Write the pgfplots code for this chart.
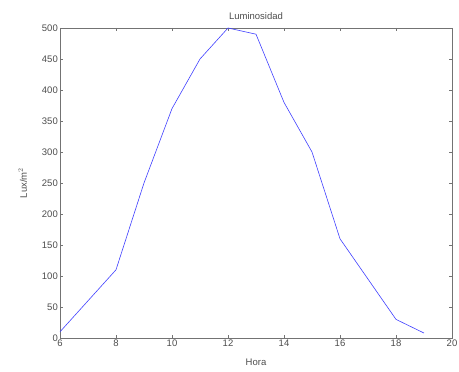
\documentclass[border=0pt]{standalone}
\usepackage{pgfplots}
\pgfplotsset{compat=1.18}
\usepackage{fontspec}
\setmainfont{Liberation Sans}
\begin{document}
\begin{tikzpicture}
\begin{axis}[
  scale only axis,
  width=392pt, height=310pt,
  xmin=6, xmax=20, ymin=0, ymax=500,
  xtick={6,8,...,20}, ytick={0,50,...,500},
  tick align=inside,
  major tick length=3pt,
  axis line style={black!55, line width=0.8pt},
  tick style={black!55, line width=0.6pt},
  every tick label/.append style={font=\fontsize{9.5}{10}\selectfont, text=black!70},
  xticklabel style={inner sep=2pt},
  yticklabel style={inner sep=2pt},
  /pgf/number format/assume math mode=true,
  every axis title shift=0pt,
  title={Luminosidad},
  title style={font=\fontsize{9.5}{10}\selectfont, text=black!70, at={(axis description cs:0.5,1.026)}, anchor=base, inner sep=0pt},
  xlabel={Hora},
  ylabel={Lux/m$^2$},
  label style={font=\fontsize{9.5}{10}\selectfont, text=black!70},
  xlabel style={at={(axis description cs:0.5,-0.066)}, anchor=north, inner sep=0pt},
  ylabel style={at={(axis description cs:-0.084,0.5)}, anchor=south, inner sep=0pt},
  clip=false,
]
\addplot[blue!75, line width=0.6pt] coordinates {
(6,10) (8,110) (9,250) (10,370) (11,450) (12,500) (13,490) (14,380) (15,300) (16,160) (17,95) (18,30) (19,8)
};
\end{axis}
\pgfresetboundingbox
\path ([shift={(-60pt,-33pt)}]current axis.south west) rectangle ([shift={(7pt,28pt)}]current axis.north east);
\end{tikzpicture}
\end{document}
